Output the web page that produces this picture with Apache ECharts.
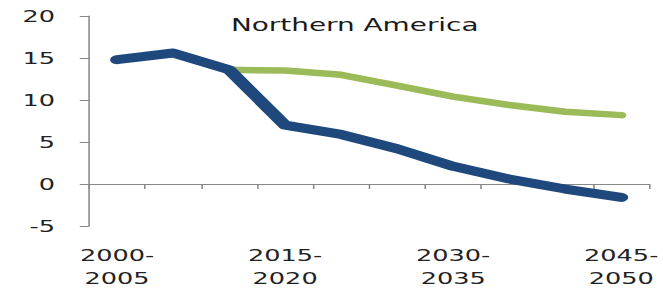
<!DOCTYPE html>
<html><head><meta charset="utf-8">
<script src="https://cdn.jsdelivr.net/npm/echarts@6/dist/echarts.min.js"></script>
<style>html,body{margin:0;padding:0;background:#fff;overflow:hidden}
#c{width:428px;height:290px;transform:scaleX(1.549);transform-origin:0 0}</style>
</head><body><div id="c"></div>
<script>
const categories = ['2000-\n2005','2005-\n2010','2010-\n2015','2015-\n2020','2020-\n2025','2025-\n2030','2030-\n2035','2035-\n2040','2040-\n2045','2045-\n2050'];
const blueValues = [14.8, 15.6, 13.6, 7.0, 5.9, 4.2, 2.1, 0.6, -0.6, -1.6];
const greenValues = [null, null, 13.6, 13.5, 13.0, 11.7, 10.4, 9.4, 8.6, 8.2];
const yTicks = {min: -5, max: 20, interval: 5};
const titleText = 'Northern America';

const font = 'DejaVu Sans';
const chart = echarts.init(document.getElementById('c'), null, {renderer: 'svg'});
chart.setOption({
  animation: false,
  title: {text: titleText, left: 224, top: 11, textAlign: 'center',
    textStyle: {fontFamily: font, fontSize: 18, fontWeight: 'normal', color: '#1a1a1a'}},
  grid: {left: 57.5, right: 8.4, top: 16, bottom: 59},
  xAxis: [{
    type: 'category', data: categories, boundaryGap: true,
    axisLine: {onZero: true, lineStyle: {color: '#888', width: 1}},
    axisTick: {show: true, length: 5, interval: 0, lineStyle: {color: '#888'}},
    axisLabel: {show: false}
  }, {
    type: 'category', data: categories, boundaryGap: true, position: 'bottom',
    axisLine: {show: false}, axisTick: {show: false},
    axisLabel: {interval: 2, margin: 18, fontFamily: font, fontSize: 16.5, color: '#222', lineHeight: 23}
  }],
  yAxis: {
    type: 'value', min: yTicks.min, max: yTicks.max, interval: yTicks.interval,
    axisLine: {show: true, lineStyle: {color: '#888'}},
    axisTick: {show: true, length: 6, lineStyle: {color: '#888'}},
    splitLine: {show: false},
    axisLabel: {margin: 22, fontFamily: font, fontSize: 16.5, color: '#222'}
  },
  series: [{
    type: 'line', data: greenValues, symbol: 'none', xAxisIndex: 0,
    lineStyle: {color: '#9BBB59', width: 6.5, cap: 'round', join: 'round'}
  }, {
    type: 'line', data: blueValues, symbol: 'none', xAxisIndex: 0,
    lineStyle: {color: '#1F497D', width: 9, cap: 'round', join: 'round'}
  }]
});
</script></body></html>
